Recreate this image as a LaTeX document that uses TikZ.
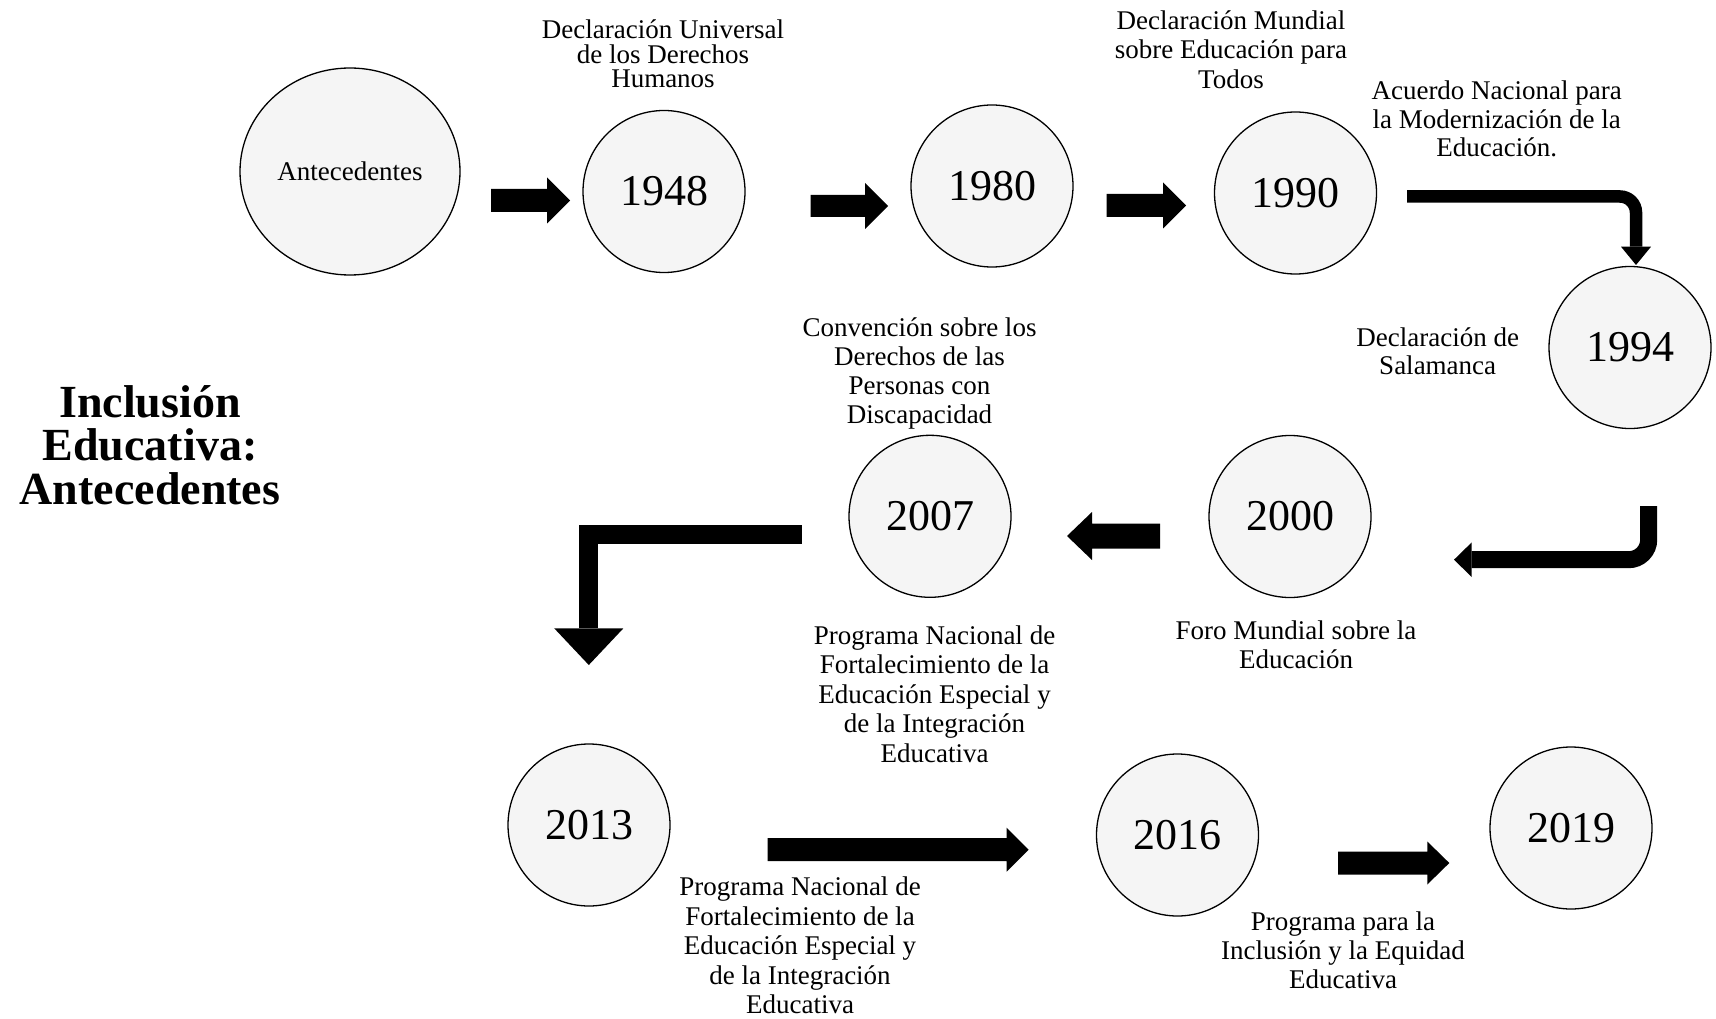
\documentclass[tikz,border=0pt]{standalone}
\usepackage{fontspec}
\setmainfont{Liberation Serif}
\usetikzlibrary{shapes.geometric,calc}

\newcommand\blockright[5]{\fill let \p1=(#1),\p2=(#2) in
 (\x1,{\y1+#3/2}) -- ({\x2-#5},{\y1+#3/2}) -- ({\x2-#5},{\y1+#4/2}) -- (\x2,\y1)
 -- ({\x2-#5},{\y1-#4/2}) -- ({\x2-#5},{\y1-#3/2}) -- (\x1,{\y1-#3/2}) -- cycle;}
\newcommand\blockleft[5]{\fill let \p1=(#1),\p2=(#2) in
 (\x1,{\y1+#3/2}) -- ({\x2+#5},{\y1+#3/2}) -- ({\x2+#5},{\y1+#4/2}) -- (\x2,\y1)
 -- ({\x2+#5},{\y1-#4/2}) -- ({\x2+#5},{\y1-#3/2}) -- (\x1,{\y1-#3/2}) -- cycle;}

\tikzset{
  yearnode/.style={circle, draw=black, line width=1.3pt, fill=black!4,
    minimum size=162pt, inner sep=0pt, font=\fontsize{44}{50}\selectfont},
  startnode/.style={ellipse, draw=black, line width=1.3pt, fill=black!4,
    minimum width=220pt, minimum height=207pt, inner sep=0pt,
    font=\fontsize{27}{30}\selectfont},
  lbl/.style={align=center, inner sep=0pt, font=\fontsize{27}{#1}\selectfont},
  lbl/.default=29.5,
  titlestyle/.style={align=center, inner sep=0pt, font=\fontsize{46}{43.5}\selectfont\bfseries},
}

\begin{document}
\begin{tikzpicture}[x=1pt,y=-1pt]
\fill[white] (0,0) rectangle (1716,1019);
\useasboundingbox (0,0) rectangle (1716,1019);

% title
\node[titlestyle] (title) at (150,445) {Inclusión\\Educativa:\\Antecedentes};

% nodes
\node[startnode] (ant) at (350,171.5) {Antecedentes};
\node[yearnode] (y1948) at (664,191.5) {1948};
\node[yearnode] (y1980) at (992,186) {1980};
\node[yearnode] (y1990) at (1295.5,193) {1990};
\node[yearnode] (y1994) at (1630,347.5) {1994};
\node[yearnode] (y2000) at (1290,516.5) {2000};
\node[yearnode] (y2007) at (930,516.3) {2007};
\node[yearnode] (y2013) at (589,825) {2013};
\node[yearnode] (y2016) at (1177.5,835) {2016};
\node[yearnode] (y2019) at (1571,828) {2019};

% labels
\node[lbl=24.5] (l1948) at (663,54) {Declaración Universal\\de los Derechos\\Humanos};
\node[lbl=29.5] (l1990) at (1231,49.5) {Declaración Mundial\\sobre Educación para\\Todos};
\node[lbl=28.3] (l1990b) at (1496.7,119) {Acuerdo Nacional para\\la Modernización de la\\Educación.};
\node[lbl=28.5] (l1994) at (1437.7,351) {Declaración de\\Salamanca};
\node[lbl=29] (l2007a) at (919.5,373.5) {Convención sobre los\\Derechos de las\\Personas con\\Discapacidad};
\node[lbl=29.5] (l2007b) at (934.5,694) {Programa Nacional de\\Fortalecimiento de la\\Educación Especial y\\de la Integración\\Educativa};
\node[lbl=28.4] (l2000) at (1296,644.6) {Foro Mundial sobre la\\Educación};
\node[lbl=29.5] (l2013) at (800,945.6) {Programa Nacional de\\Fortalecimiento de la\\Educación Especial y\\de la Integración\\Educativa};
\node[lbl=29] (l2016) at (1343,950.3) {Programa para la\\Inclusión y la Equidad\\Educativa};

% straight block arrows
\coordinate (a1s) at (491,200.5);   \coordinate (a1e) at (570,200.5);
\coordinate (a2s) at (810.5,206);   \coordinate (a2e) at (888,206);
\coordinate (a3s) at (1106.7,205.5);\coordinate (a3e) at (1186,205.5);
\coordinate (a4s) at (1160,536);    \coordinate (a4e) at (1067,536);
\coordinate (a5s) at (767.6,849.7); \coordinate (a5e) at (1028.6,849.7);
\coordinate (a6s) at (1338,863);    \coordinate (a6e) at (1449.3,863);
\blockright{a1s}{a1e}{23pt}{46pt}{23pt}
\blockright{a2s}{a2e}{22pt}{46pt}{23pt}
\blockright{a3s}{a3e}{23pt}{46pt}{23pt}
\blockleft{a4s}{a4e}{25pt}{48pt}{25pt}
\blockright{a5s}{a5e}{23pt}{44pt}{22pt}
\blockright{a6s}{a6e}{23pt}{43pt}{22pt}

% bent arrow 1990 -> 1994
\coordinate (b1s) at (1407,196.5); \coordinate (b1e) at (1636,246.7); \coordinate (b1t) at (1636,265);
\draw[line width=12.5pt, rounded corners=16pt] (b1s) -| (b1e);
\fill (b1e) ++(-15,0) -- ++(30,0) -- (b1t) -- cycle;

% bent arrow 1994 -> 2000
\coordinate (b2s) at (1648.7,506); \coordinate (b2e) at (1471.7,559.7); \coordinate (b2t) at (1454,559.7);
\draw[line width=17pt, rounded corners=20pt] (b2s) |- (b2e);
\fill (b2e) ++(0,-17.3) -- ++(0,34.6) -- (b2t) -- cycle;

% L arrow 2007 -> 2013
\coordinate (b3s) at (801.5,534.5); \coordinate (b3e) at (588.8,628.3); \coordinate (b3t) at (588.8,665);
\draw[line width=19pt, line join=miter] (b3s) -| (b3e);
\fill (b3e) ++(-34.6,0) -- ++(69.2,0) -- (b3t) -- cycle;
\end{tikzpicture}
\end{document}
